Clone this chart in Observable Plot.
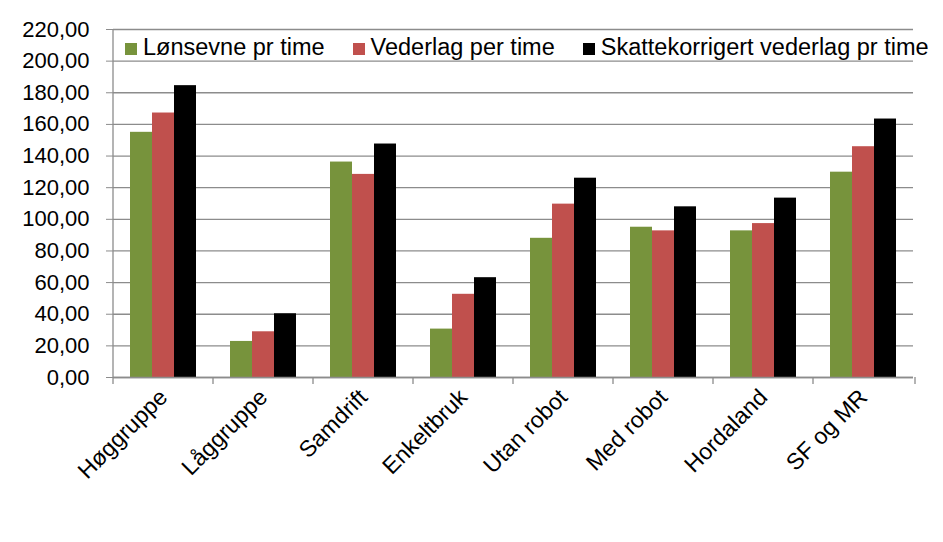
<!DOCTYPE html>
<html>
<head>
<meta charset="utf-8">
<script src="https://cdn.jsdelivr.net/npm/d3@7"></script>
<script src="https://cdn.jsdelivr.net/npm/@observablehq/plot@0.6"></script>
<style>
  html, body { margin: 0; padding: 0; background: #fff; }
  #wrap { position: relative; width: 943px; height: 542px; font-family: "Liberation Sans", Arial, sans-serif; }
  #legend { position: absolute; left: 125px; top: 35px; display: flex; align-items: center; gap: 28px; font-size: 23.5px; line-height: 24px; color: #000; white-space: nowrap; }
  .item { display: flex; align-items: center; }
  .sw { width: 12px; height: 12px; margin-right: 6px; margin-top: 4px; }
</style>
</head>
<body>
<div id="wrap"><div id="legend"></div></div>
<script>
const categories = ["Høggruppe", "Låggruppe", "Samdrift", "Enkeltbruk", "Utan robot", "Med robot", "Hordaland", "SF og MR"];
const series = ["Lønsevne pr time", "Vederlag per time", "Skattekorrigert vederlag pr time"];
const lonsevne   = [155.0, 22.8, 136.2, 30.6,  88.0,  95.0,  92.7, 129.8];
const vederlag   = [167.2, 28.9, 128.4, 52.6, 109.6,  92.7,  97.3, 145.9];
const skattekorr = [184.5, 40.3, 147.6, 63.1, 126.0, 107.9, 113.4, 163.4];
const colors = ["#77933C", "#C0504D", "#000000"];
const yTicks = [0, 20, 40, 60, 80, 100, 120, 140, 160, 180, 200, 220];

const valuesBySeries = [lonsevne, vederlag, skattekorr];
const data = [];
categories.forEach((c, i) => {
  series.forEach((s, j) => data.push({cat: c, series: s, value: valuesBySeries[j][i]}));
});

const axisGray = "#8c8c8c";
const fmt = d => d.toFixed(2).replace(".", ",");

const chart = Plot.plot({
  width: 943,
  height: 542,
  marginLeft: 110,
  marginRight: 28,
  marginTop: 29,
  marginBottom: 165,
  style: {fontFamily: "'Liberation Sans', Arial, sans-serif", fontSize: "22px", color: "#000", background: "#fff"},
  fx: {domain: categories, padding: 0, label: null},
  x: {domain: series, paddingInner: 0, paddingOuter: 0.766, axis: null},
  y: {domain: [0, 220], label: null},
  color: {domain: series, range: colors},
  marks: [
    Plot.gridY(yTicks, {stroke: axisGray, strokeOpacity: 1, strokeWidth: 1.3}),
    Plot.barY(data, {fx: "cat", x: "series", y: "value", fill: "series"}),
    Plot.ruleY([0], {stroke: axisGray, strokeWidth: 1.3}),
    Plot.axisY(yTicks, {anchor: "left", tickSize: 7, tickPadding: 17, tickFormat: fmt, stroke: axisGray, fill: "#000", fontSize: 22, label: null}),
    Plot.axisFx({anchor: "bottom", tickRotate: -45, tickSize: 0, tickPadding: 16, fontSize: 23, fill: "#000", label: null})
  ]
});

document.getElementById("wrap").appendChild(chart);

// axis skeleton: left axis line and category boundary ticks
const fx = chart.scale("fx");
const y = chart.scale("y");
const svg = d3.select(chart);
const y0 = y.apply(0), yTop = y.apply(220);
const bounds = categories.map(c => fx.apply(c));
bounds.push(fx.range[1]);
const g = svg.append("g").attr("stroke", axisGray).attr("stroke-width", 1.3);
g.append("line").attr("x1", bounds[0]).attr("x2", bounds[0]).attr("y1", yTop).attr("y2", y0);
bounds.forEach(b => g.append("line").attr("x1", b).attr("x2", b).attr("y1", y0).attr("y2", y0 + 7));

// legend
const legend = d3.select("#legend");
series.forEach((s, j) => {
  const it = legend.append("div").attr("class", "item");
  it.append("div").attr("class", "sw").style("background", colors[j]);
  it.append("span").text(s);
});
</script>
</body>
</html>
